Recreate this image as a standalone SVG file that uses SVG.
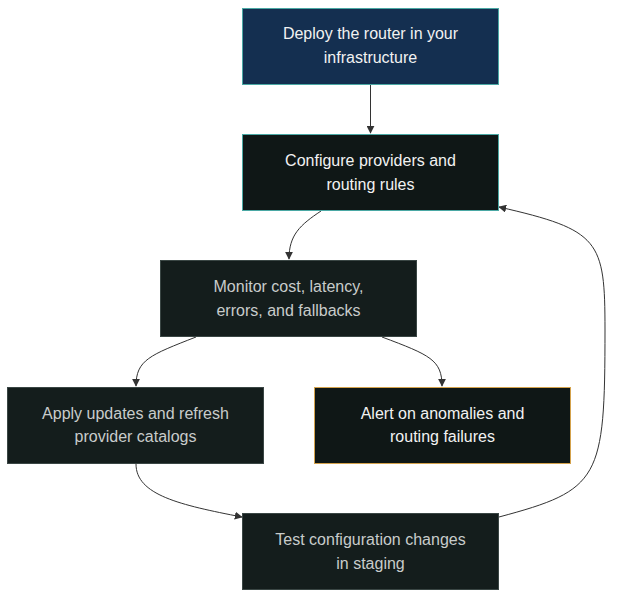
<svg xmlns="http://www.w3.org/2000/svg" width="621" height="606" viewBox="0 0 621 606">
<style>
text{font-family:"Liberation Sans",Arial,sans-serif;font-size:16px;text-anchor:middle}
.w{fill:#f2f2f2}.g{fill:#c8cccb}
.e{fill:none;stroke:#333;stroke-width:1}
</style>
<defs><marker id="a" viewBox="0 0 10 10" refX="9" refY="5" markerWidth="8" markerHeight="8" markerUnits="userSpaceOnUse" orient="auto"><path d="M0,0L10,5L0,10z" fill="#333"/></marker></defs>
<rect width="621" height="606" fill="#fff"/>
<g id="connectors">
<path class="e" d="M370.5,85V133" marker-end="url(#a)"/>
<path class="e" d="M321,211C300,225 289,235 289,259" marker-end="url(#a)"/>
<path class="e" d="M196,337C150,355 136,360 136,386" marker-end="url(#a)"/>
<path class="e" d="M382,337C430,355 442,360 442,386" marker-end="url(#a)"/>
<path class="e" d="M136,464C136,495 180,505 242,517" marker-end="url(#a)"/>
<path class="e" d="M499,517C600,490 605,480 605,330C605,240 600,230 499,207" marker-end="url(#a)"/>
</g>
<g id="n1"><rect x="242.5" y="8.5" width="256" height="76" fill="#142f50" stroke="#4aa8a4"/><text class="w" x="370.5" y="39">Deploy the router in your</text><text class="w" x="370.5" y="63">infrastructure</text></g>
<g id="n2"><rect x="242.5" y="134.5" width="256" height="76" fill="#0f1716" stroke="#4aa8a4"/><text class="w" x="370.5" y="166">Configure providers and</text><text class="w" x="370.5" y="190">routing rules</text></g>
<g id="n3"><rect x="160.5" y="260.5" width="256" height="76" fill="#141d1c" stroke="#3a4644"/><text class="g" x="288.5" y="292">Monitor cost, latency,</text><text class="g" x="288.5" y="316">errors, and fallbacks</text></g>
<g id="n4"><rect x="7.5" y="387.5" width="256" height="76" fill="#141d1c" stroke="#3a4644"/><text class="g" x="135.5" y="419">Apply updates and refresh</text><text class="g" x="135.5" y="442">provider catalogs</text></g>
<g id="n5"><rect x="314.5" y="387.5" width="256" height="76" fill="#0f1716" stroke="#d4a24c"/><text class="w" x="442.5" y="419">Alert on anomalies and</text><text class="w" x="442.5" y="442">routing failures</text></g>
<g id="n6"><rect x="242.5" y="513.5" width="256" height="76" fill="#141d1c" stroke="#3a4644"/><text class="g" x="370.5" y="545">Test configuration changes</text><text class="g" x="370.5" y="569">in staging</text></g>
</svg>
